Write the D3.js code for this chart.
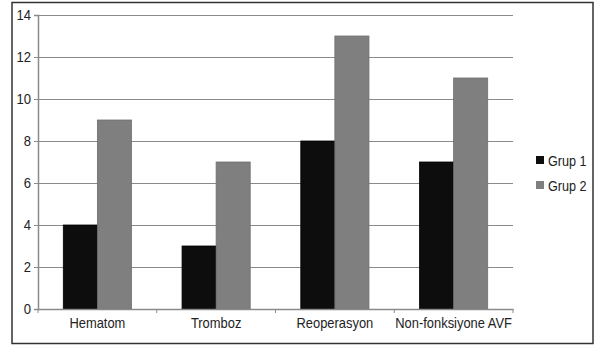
<!DOCTYPE html>
<html><head><meta charset="utf-8">
<script src="https://cdn.jsdelivr.net/npm/d3@7"></script>
<style>body{margin:0;background:#fff}svg{display:block}text{font-family:"Liberation Sans",Arial,sans-serif;fill:#222}</style>
</head><body><svg id="c" width="595" height="348"></svg>
<script>
const categories = ["Hematom", "Tromboz", "Reoperasyon", "Non-fonksiyone AVF"];
const seriesNames = ["Grup 1", "Grup 2"];
const grup1 = [4, 3, 8, 7];
const grup2 = [9, 7, 13, 11];
const yTicks = [0, 2, 4, 6, 8, 10, 12, 14];
const colors = ["#0d0d0d", "#7f7f7f"];

const svg = d3.select("#c");
svg.append("rect").attr("x", 12).attr("y", 2.5).attr("width", 581).attr("height", 341)
  .attr("fill", "#fff").attr("stroke", "#333").attr("stroke-width", 1.5);

const L = 38, R = 513, T = 15, B = 309;
const x = d3.scaleBand().domain(categories).range([L, R]).padding(0);
const y = d3.scaleLinear().domain([0, 14]).range([B, T]);
const sub = d3.scaleBand().domain(seriesNames).range([25.3, x.bandwidth() - 25.3]).padding(0);

// condense text horizontally like the reference's narrow face
function condense(sel, k) {
  sel.each(function() {
    const w = this.getComputedTextLength();
    d3.select(this).attr("textLength", w * k).attr("lengthAdjust", "spacingAndGlyphs");
  });
}

// gridlines
svg.append("g").selectAll("line").data(yTicks.filter(d => d > 0)).join("line")
  .attr("x1", L).attr("x2", R).attr("y1", d => Math.round(y(d)) + 0.5).attr("y2", d => Math.round(y(d)) + 0.5)
  .attr("stroke", "#8a8a8a").attr("stroke-width", 1.2);

// bars
const data = categories.map((c, i) => ({c, vals: [grup1[i], grup2[i]]}));
const g = svg.append("g");
data.forEach(d => {
  d.vals.forEach((v, j) => {
    g.append("rect")
      .attr("x", x(d.c) + sub(seriesNames[j]))
      .attr("y", y(v))
      .attr("width", sub.bandwidth())
      .attr("height", y(0) - y(v))
      .attr("fill", colors[j])
      .attr("stroke", j === 0 ? "#000" : "#6e6e6e").attr("stroke-width", 0.8);
  });
});

// y axis
const ya = svg.append("g").attr("transform", `translate(${L},0)`)
  .call(d3.axisLeft(y).tickValues(yTicks).tickSize(4).tickPadding(3).tickFormat(d3.format("d")));
ya.select(".domain").attr("stroke", "#8a8a8a").attr("stroke-width", 1.5);
ya.selectAll(".tick line").attr("stroke", "#8a8a8a");
ya.selectAll("text").attr("font-size", 14.5).attr("font-family", "Liberation Sans, Arial, sans-serif").attr("fill", "#222");
condense(ya.selectAll("text"), 0.9);

// x axis
const xa = svg.append("g").attr("transform", `translate(0,${B})`)
  .call(d3.axisBottom(x).tickSize(0).tickPadding(9));
xa.select(".domain").attr("stroke", "#8a8a8a").attr("stroke-width", 1.5);
xa.selectAll("text").attr("font-size", 14.5).attr("font-family", "Liberation Sans, Arial, sans-serif").attr("fill", "#222");
condense(xa.selectAll("text"), 0.89);
// category boundary ticks
svg.append("g").selectAll("line").data(d3.range(categories.length + 1)).join("line")
  .attr("x1", i => L + i * x.step()).attr("x2", i => L + i * x.step())
  .attr("y1", B).attr("y2", B + 4).attr("stroke", "#8a8a8a");

// legend
const lg = svg.append("g");
seriesNames.forEach((s, i) => {
  lg.append("rect").attr("x", 536).attr("y", 156 + i * 25).attr("width", 8).attr("height", 8).attr("fill", colors[i]);
  lg.append("text").attr("x", 548).attr("y", 165.5 + i * 25).attr("font-size", 14.5).text(s);
});
condense(lg.selectAll("text"), 0.87);
</script></body></html>
